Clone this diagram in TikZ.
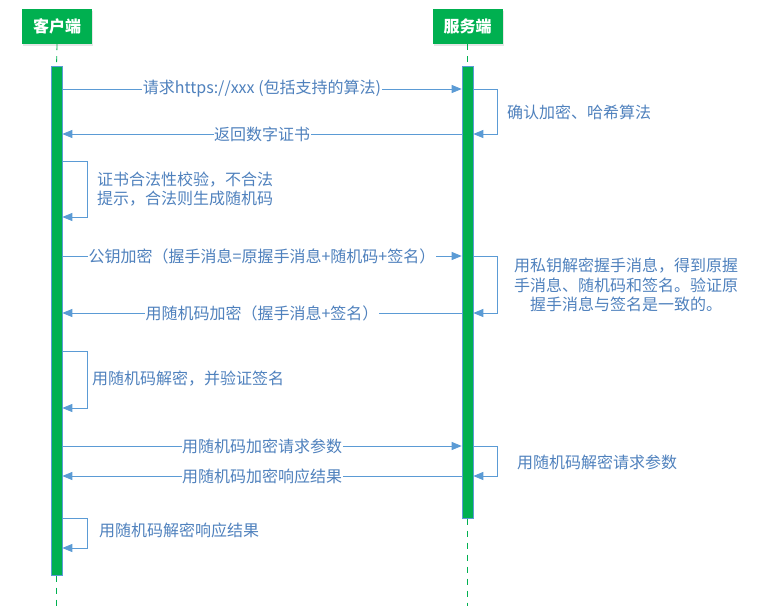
\documentclass[tikz,border=0pt]{standalone}
\usepackage{fontspec}
\setmainfont{Noto Sans CJK SC}
\usetikzlibrary{arrows.meta,shadows}
\definecolor{grn}{HTML}{00B050}
\definecolor{ln}{HTML}{5B9BD5}
\definecolor{txt}{HTML}{4F81BD}
\begin{document}
\begin{tikzpicture}[x=1pt,y=-1pt,
  head/.style={fill=grn, text=white, font=\fontsize{16}{18}\selectfont\bfseries,
    minimum width=70pt, minimum height=35pt, inner sep=0pt,
    drop shadow={opacity=0.2, shadow xshift=1pt, shadow yshift=-2pt}},
  bar/.style={fill=grn, draw=ln, line width=0.6pt, minimum width=11pt, inner sep=0pt, anchor=north},
  life/.style={draw=grn, line width=0.8pt, dash pattern=on 6pt off 6pt},
  msg/.style={draw=ln, line width=0.8pt, -{Triangle[length=10pt,width=8pt]}},
  lbl/.style={text=txt, font=\fontsize{16}{19.5}\selectfont, fill=white, inner sep=0.5pt},
  note/.style={text=txt, font=\fontsize{16}{19.5}\selectfont, inner sep=0pt}]
\useasboundingbox (0,0) rectangle (776,606);
% headers
\node[head] (client) at (57,26.5) {客户端};
\node[head] (server) at (467.5,26.5) {服务端};
% activation bars
\node[bar, minimum height=509pt] (cbar) at (56.5,66) {};
\node[bar, minimum height=452pt] (sbar) at (467.5,66) {};
% lifelines
\coordinate (cend) at (56.5,606);
\coordinate (send) at (467.5,606);
\draw[life] (client.south) -- (cbar.north);
\draw[life] (server.south) -- (sbar.north);
\draw[life] (cbar.south) -- (cend);
\draw[life] (sbar.south) -- (send);
% 1
\draw[msg] (cbar.east |- 0,89) -- node[lbl]{请求https://xxx (包括支持的算法)} (sbar.west |- 0,89);
% 2
\draw[msg] (sbar.east |- 0,89) -- ++(24,0) |- (sbar.east |- 0,134);
\node[note, anchor=west] (n2) at (507,112) {确认加密、哈希算法};
% 3
\draw[msg] (sbar.west |- 0,134) -- node[lbl]{返回数字证书} (cbar.east |- 0,134);
% 4
\draw[msg] (cbar.east |- 0,161) -- ++(25,0) |- (cbar.east |- 0,217);
\node[note, anchor=west, align=left] (n4) at (97,189) {证书合法性校验，不合法\\提示，合法则生成随机码};
% 5
\draw[msg] (cbar.east |- 0,256) -- node[lbl]{公钥加密（握手消息=原握手消息+随机码+签名）} (sbar.west |- 0,256);
% 6
\draw[msg] (sbar.east |- 0,256) -- ++(24,0) |- (sbar.east |- 0,313);
\node[note, align=center] (n6) at (626,285) {用私钥解密握手消息，得到原握\\手消息、随机码和签名。验证原\\握手消息与签名是一致的。};
% 7
\draw[msg] (sbar.west |- 0,313) -- node[lbl]{用随机码加密（握手消息+签名）} (cbar.east |- 0,313);
% 8
\draw[msg] (cbar.east |- 0,351) -- ++(25,0) |- (cbar.east |- 0,408);
\node[note, anchor=west] (n8) at (92,379) {用随机码解密，并验证签名};
% 9
\draw[msg] (cbar.east |- 0,446) -- node[lbl]{用随机码加密请求参数} (sbar.west |- 0,446);
% 10
\draw[msg] (sbar.east |- 0,446) -- ++(24,0) |- (sbar.east |- 0,476);
\node[note, anchor=west] (n10) at (517,462) {用随机码解密请求参数};
% 11
\draw[msg] (sbar.west |- 0,476) -- node[lbl]{用随机码加密响应结果} (cbar.east |- 0,476);
% 12
\draw[msg] (cbar.east |- 0,518) -- ++(25,0) |- (cbar.east |- 0,548);
\node[note, anchor=west] (n12) at (99,530) {用随机码解密响应结果};
\end{tikzpicture}
\end{document}
